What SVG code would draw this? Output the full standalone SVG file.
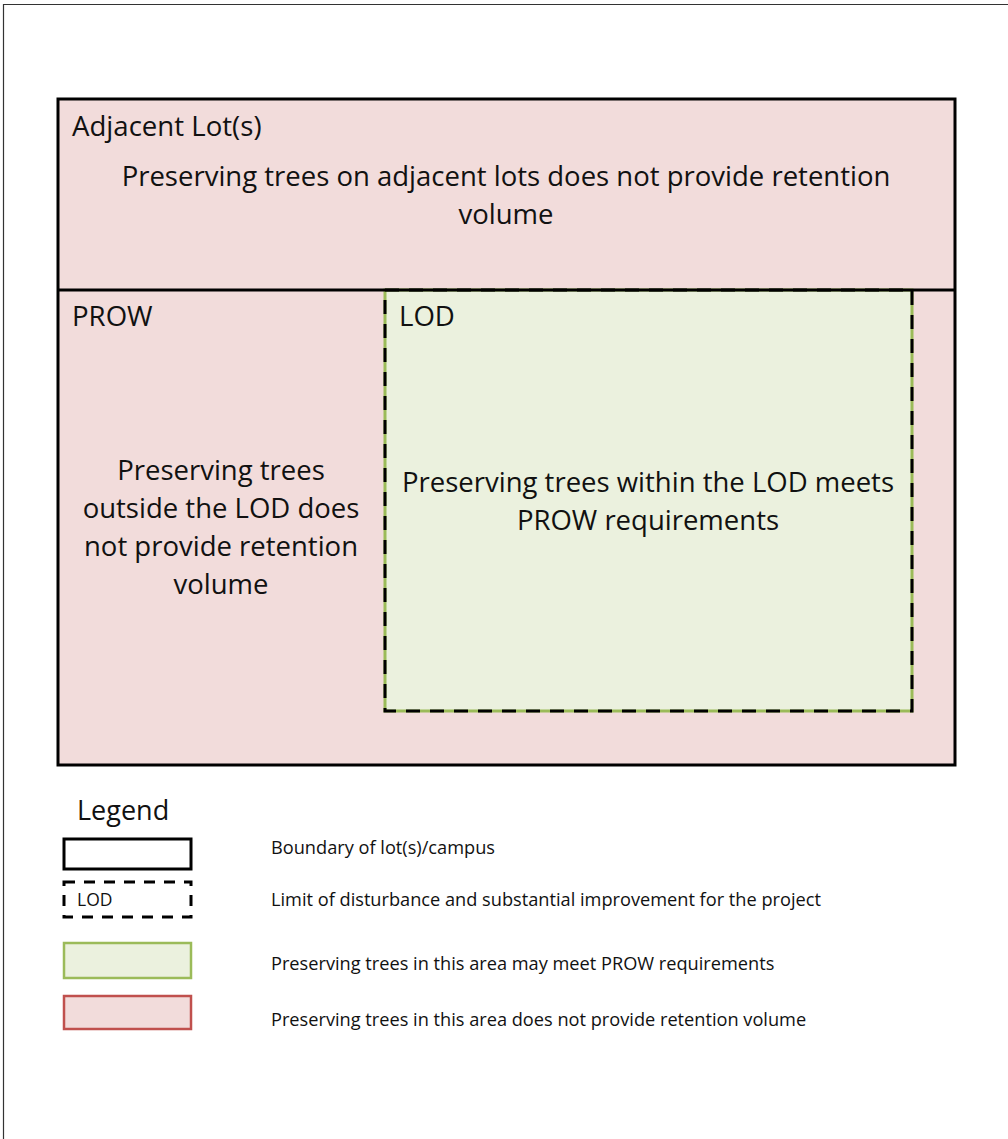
<svg xmlns="http://www.w3.org/2000/svg" width="1008" height="1139" viewBox="0 0 1008 1139">
<style>
text{font-family:"Open Sans","Liberation Sans",sans-serif;fill:#111}
.big{font-size:27.5px}
.lbl{font-size:27.6px}
.leg{font-size:18.2px}
.pink{fill:#f2dcdb}
.green{fill:#ebf1de}
.bd{stroke:#000;stroke-width:3;fill:none}
.dash{stroke:#000;stroke-width:3;fill:none;stroke-dasharray:14 10}
.dash2{stroke:#000;stroke-width:3;fill:none;stroke-dasharray:11 9}
</style>
<rect x="0" y="0" width="1008" height="1139" fill="#fff"/>
<path d="M3.5 1139V4.5H1008" fill="none" stroke="#333" stroke-width="1.2"/>
<g id="adjacent">
<rect x="58" y="99" width="897" height="191" class="pink"/>
<text x="72" y="136" class="lbl">Adjacent Lot(s)</text>
<text x="506" y="186" class="big" text-anchor="middle">Preserving trees on adjacent lots does not provide retention</text>
<text x="506" y="224" class="big" text-anchor="middle">volume</text>
</g>
<g id="prow">
<rect x="58" y="290" width="897" height="475" class="pink"/>
<text x="72" y="326" class="lbl">PROW</text>
<text x="221" y="480" class="big" text-anchor="middle">Preserving trees</text>
<text x="221" y="518" class="big" text-anchor="middle">outside the LOD does</text>
<text x="221" y="556" class="big" text-anchor="middle">not provide retention</text>
<text x="221" y="594" class="big" text-anchor="middle">volume</text>
</g>
<g id="lod">
<rect x="385" y="290" width="527" height="421" class="green" stroke="#9bbb59" stroke-width="3"/>
<rect x="385" y="290" width="527" height="421" class="dash"/>
<text x="399" y="326" class="lbl">LOD</text>
<text x="648" y="492" class="big" text-anchor="middle">Preserving trees within the LOD meets</text>
<text x="648" y="530" class="big" text-anchor="middle">PROW requirements</text>
</g>
<g id="boundary">
<rect x="58" y="99" width="897" height="666" class="bd"/>
<line x1="58" y1="290" x2="955" y2="290" stroke="#000" stroke-width="3"/>
</g>
<g id="legend">
<text x="77" y="820" font-size="27">Legend</text>
<rect x="64" y="839" width="127" height="30" class="bd"/>
<rect x="64" y="882" width="127" height="35" class="dash2"/>
<text x="77" y="906" font-size="17.5">LOD</text>
<rect x="64" y="943" width="127" height="35" class="green" stroke="#9bbb59" stroke-width="2.5"/>
<rect x="64" y="996" width="127" height="33" class="pink" stroke="#c0504d" stroke-width="2.5"/>
<text x="271" y="854" class="leg">Boundary of lot(s)/campus</text>
<text x="271" y="906" class="leg">Limit of disturbance and substantial improvement for the project</text>
<text x="271" y="970" class="leg">Preserving trees in this area may meet PROW requirements</text>
<text x="271" y="1026" class="leg">Preserving trees in this area does not provide retention volume</text>
</g>
</svg>
